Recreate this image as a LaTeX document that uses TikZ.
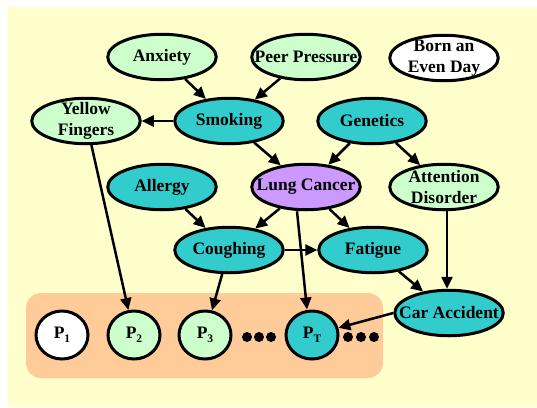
\documentclass[tikz,border=0pt]{standalone}
\usepackage{fontspec}
\setmainfont{Liberation Serif}
\usetikzlibrary{shapes.geometric,arrows.meta}
\definecolor{paleyellow}{HTML}{FFFFCC}
\definecolor{palegreen}{HTML}{CCFFCC}
\definecolor{cyanfill}{HTML}{33CCCC}
\definecolor{lilac}{HTML}{CC99FF}
\definecolor{peach}{HTML}{FFCC99}
\newcommand{\psub}[1]{P\raisebox{-4pt}{\fontsize{11.5}{11.5}\selectfont #1}}
\begin{document}
\begin{tikzpicture}[x=1pt,y=-1pt,
  var/.style={ellipse,draw,line width=3pt,minimum width=108.5pt,minimum height=45.5pt,
    inner xsep=-15pt,inner ysep=-8pt,align=center,font=\fontsize{17.5}{21}\selectfont\bfseries},
  obs/.style={var,minimum width=52pt,minimum height=48pt},
  edge/.style={line width=2.5pt,-{Triangle[length=12pt,width=11pt]}}]
  \useasboundingbox (0,0) rectangle (537,407);
  % Hintergrund
  \fill[paleyellow] (8,7) rectangle (537,407);
  \fill[peach,rounded corners=15pt] (26,293) rectangle (383,378);
  % Variablen
  \node[var,fill=palegreen] (anx) at (162,57) {Anxiety};
  \node[var,fill=palegreen] (peer) at (306,57) {Peer Pressure};
  \node[var,fill=white] (born) at (444,58) {Born an\\Even Day};
  \node[var,fill=palegreen] (yellow) at (86,121) {Yellow\\Fingers};
  \node[var,fill=cyanfill] (smoke) at (229,121) {Smoking};
  \node[var,fill=cyanfill] (gene) at (372,121) {Genetics};
  \node[var,fill=cyanfill] (allergy) at (162,187) {Allergy};
  \node[var,fill=lilac] (lung) at (306,187) {Lung Cancer};
  \node[var,fill=palegreen] (attn) at (444,187) {Attention\\Disorder};
  \node[var,fill=cyanfill] (cough) at (229,250) {Coughing};
  \node[var,fill=cyanfill] (fatigue) at (373,250) {Fatigue};
  \node[var,fill=cyanfill] (car) at (449,313) {Car Accident};
  % Beobachtungen
  \node[obs,fill=white] (p1) at (62,335) {\psub{1}};
  \node[obs,fill=palegreen] (p2) at (134,335) {\psub{2}};
  \node[obs,fill=palegreen] (p3) at (205,335) {\psub{3}};
  \node[obs,fill=cyanfill] (pT) at (312,335) {\psub{T}};
  \foreach \x in {247,259,271,348,361,374} {
    \fill (\x,337) circle (5pt);
  }
  % Kanten
  \foreach \a/\b in {anx/smoke,peer/smoke,smoke/yellow,smoke/lung,gene/lung,
    gene/attn,allergy/cough,lung/cough,lung/fatigue,cough/fatigue,cough/p3,
    fatigue/car,yellow/p2} {
    \draw[edge] (\a) -- (\b);
  }
  \draw[edge] ([xshift=-9pt]lung.south) -- ([xshift=-5pt]pT.north);
  \draw[edge] ([xshift=3pt]attn.south) -- ([xshift=-2pt]car.north);
  \draw[edge] (car.west) -- (pT);
\end{tikzpicture}
\end{document}
